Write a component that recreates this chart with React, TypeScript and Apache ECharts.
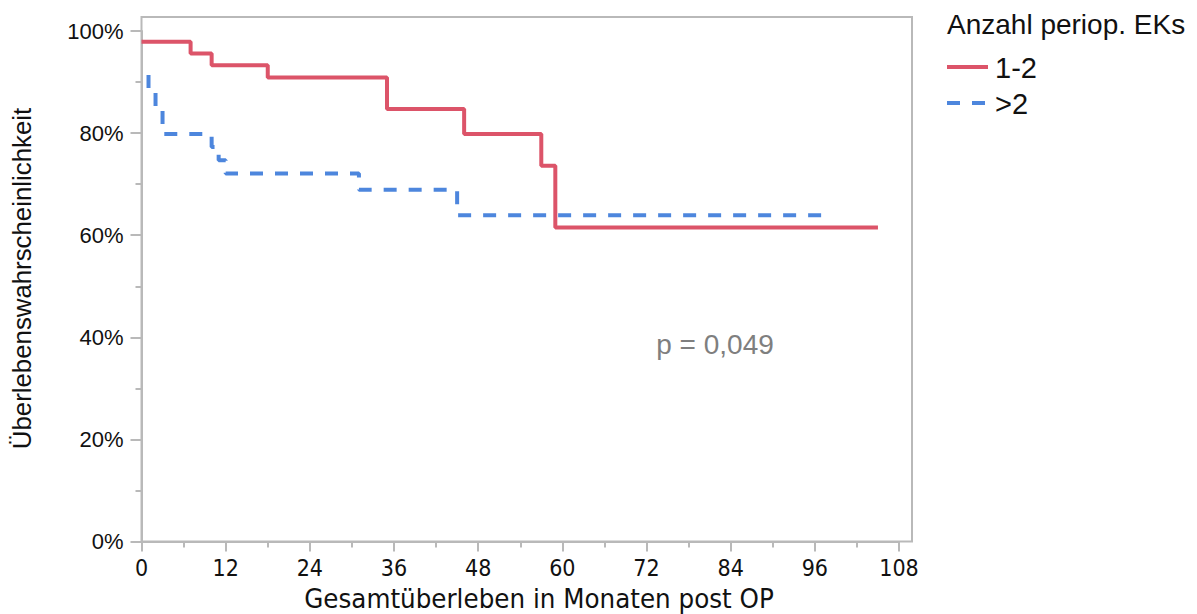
import React, { useEffect, useRef } from "react";
import * as echarts from "echarts";

// Kaplan–Meier estimates (months after surgery, survival in %)
const groupNames = ["1-2", ">2"];
const lowTimes = [0, 7, 10, 18, 35, 46, 57, 59, 105];
const lowSurvival = [97.9, 95.6, 93.3, 90.9, 84.7, 79.8, 73.6, 61.5, 61.5];
const highTimes = [1, 1, 2, 3, 10, 11, 12, 31, 45, 97.5];
const highSurvival = [91.4, 88.4, 84.9, 79.8, 77.3, 74.7, 72.1, 68.9, 63.9, 63.9];

const xTitle = "Gesamtüberleben in Monaten post OP";
const yTitle = "Überlebenswahrscheinlichkeit";
const legendTitle = "Anzahl periop. EKs";
const pValueText = "p = 0,049";

const RED = "#dc5469";
const BLUE = "#4d86dd";
const GRAY = "#b9b9b9";
const SANS = "'Liberation Sans', Arial, Helvetica, sans-serif";
const NARROW = "'Liberation Sans Narrow', 'DejaVu Sans Condensed', 'Liberation Sans', sans-serif";

const pairs = (xs: number[], ys: number[]) => xs.map((x, i) => [x, ys[i]]);

export default function App() {
  const ref = useRef<HTMLDivElement>(null);

  useEffect(() => {
    if (!ref.current) return;
    const chart = echarts.init(ref.current, undefined, { renderer: "svg" });

    const plotL = 141.5;
    const plotT = 31;
    const plotR = 899;
    const plotB = 541.5;

    chart.setOption({
      animation: false,
      backgroundColor: "#ffffff",
      grid: { left: plotL, top: plotT, right: 1197 - plotR, bottom: 614 - plotB, containLabel: false },
      xAxis: {
        type: "value",
        min: 0,
        max: 108,
        interval: 12,
        axisLine: { show: true, lineStyle: { color: GRAY, width: 2 } },
        axisTick: { show: true, length: 10, lineStyle: { color: GRAY, width: 2 } },
        minorTick: { show: true, splitNumber: 2, length: 6, lineStyle: { color: GRAY, width: 2 } },
        splitLine: { show: false },
        axisLabel: { margin: 15, color: "#111", fontFamily: NARROW, fontSize: 23 },
      },
      yAxis: {
        type: "value",
        min: 0,
        max: 100,
        interval: 20,
        axisLine: { show: true, lineStyle: { color: GRAY, width: 2 } },
        axisTick: { show: true, length: 11, lineStyle: { color: GRAY, width: 2 } },
        minorTick: { show: true, splitNumber: 2, length: 6, lineStyle: { color: GRAY, width: 2 } },
        splitLine: { show: false },
        axisLabel: { margin: 18, color: "#111", fontFamily: SANS, fontSize: 22, formatter: "{value}%" },
      },
      series: [
        {
          name: groupNames[0],
          type: "line",
          step: "end",
          showSymbol: false,
          data: pairs(lowTimes, lowSurvival),
          lineStyle: { color: RED, width: 4 },
          z: 3,
        },
        {
          name: groupNames[1],
          type: "line",
          step: "end",
          showSymbol: false,
          data: pairs(highTimes, highSurvival),
          lineStyle: { color: BLUE, width: 4, type: [13, 12] },
          z: 2,
        },
      ],
      graphic: [
        // plot frame
        {
          type: "rect",
          shape: { x: plotL, y: 17, width: 912 - plotL, height: plotB - 17 },
          style: { fill: "none", stroke: GRAY, lineWidth: 2 },
          silent: true,
          z: 1,
        },
        {
          type: "text",
          x: 22,
          y: 278.5,
          rotation: Math.PI / 2,
          style: {
            text: yTitle,
            font: `25.8px ${SANS}`,
            fill: "#111",
            align: "center",
            verticalAlign: "middle",
          },
        },
        {
          type: "text",
          x: 539,
          y: 598,
          style: {
            text: xTitle,
            font: `27.4px ${NARROW}`,
            fill: "#111",
            align: "center",
            verticalAlign: "middle",
          },
        },
        {
          type: "text",
          x: 715,
          y: 344,
          style: {
            text: pValueText,
            font: `28px ${SANS}`,
            fill: "#7f7f7f",
            align: "center",
            verticalAlign: "middle",
          },
        },
        // legend
        {
          type: "text",
          x: 947,
          y: 24,
          style: { text: legendTitle, font: `28px ${SANS}`, fill: "#111", align: "left", verticalAlign: "middle" },
        },
        {
          type: "line",
          shape: { x1: 947, y1: 67, x2: 988, y2: 67 },
          style: { stroke: RED, lineWidth: 4 },
        },
        {
          type: "text",
          x: 995,
          y: 68,
          style: { text: groupNames[0], font: `29px ${SANS}`, fill: "#111", align: "left", verticalAlign: "middle" },
        },
        {
          type: "line",
          shape: { x1: 947, y1: 103, x2: 986, y2: 103 },
          style: { stroke: BLUE, lineWidth: 4, lineDash: [13, 12] },
        },
        {
          type: "text",
          x: 995,
          y: 104,
          style: { text: groupNames[1], font: `29px ${SANS}`, fill: "#111", align: "left", verticalAlign: "middle" },
        },
      ],
    });

    return () => chart.dispose();
  }, []);

  return (
    <div
      ref={ref}
      style={{ position: "fixed", left: 0, top: 0, width: 1197, height: 614, background: "#fff" }}
    />
  );
}
